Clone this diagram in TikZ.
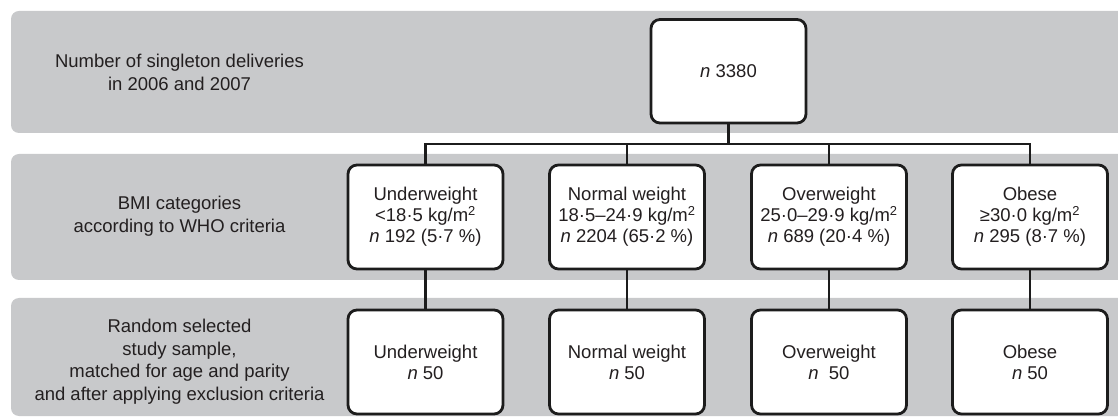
\documentclass[tikz,border=0pt]{standalone}
\usepackage{fontspec}
\setmainfont{Liberation Sans}
\usetikzlibrary{calc}

\definecolor{bandgray}{RGB}{200,201,203}
\definecolor{inkline}{RGB}{28,28,28}
\definecolor{inktext}{RGB}{35,31,32}

\tikzset{
  band/.style={fill=bandgray, rounded corners=8pt},
  label/.style={align=center, text=inktext, inner sep=0pt,
    font=\fontsize{18.5}{22.5}\selectfont},
  box/.style={draw=inkline, line width=2.8pt, fill=white, rounded corners=9pt,
    minimum width=155pt, minimum height=104pt, align=center, inner sep=0pt,
    text=inktext, font=\fontsize{18.5}{21}\selectfont},
  link/.style={draw=inkline, line width=2.8pt, line join=miter}
}

\begin{document}
\begin{tikzpicture}[x=1pt, y=-1pt]
  \clip (0,0) rectangle (1118,419);
  \fill[white] (0,0) rectangle (1118,419);

  % three grey bands, open to the right
  \path[band] (11,11)  rectangle (1140,133);
  \path[band] (11,154) rectangle (1140,280);
  \path[band] (11,298) rectangle (1140,416);

  % row captions
  \node[label] (cap1) at (179.5,72.5)
    {Number of singleton deliveries\\in 2006 and 2007};
  \node[label] (cap2) at (179.5,216)
    {BMI categories\\according to WHO criteria};
  \node[label] (cap3) at (179.5,361.5)
    {Random selected\\study sample,\\matched for age and parity\\and after applying exclusion criteria};

  % total
  \node[box, minimum height=103.5pt] (all) at (728.5,71.25) {\textit{n} 3380};

  % BMI categories
  \node[box] (u1) at (425.5,217) {Underweight\\<18·5 kg/m\textsuperscript{2}\\\textit{n} 192 (5·7 \%)};
  \node[box] (n1) at (627,217) {Normal weight\\18·5–24·9 kg/m\textsuperscript{2}\\\textit{n} 2204 (65·2 \%)};
  \node[box] (w1) at (829,217) {Overweight\\25·0–29·9 kg/m\textsuperscript{2}\\\textit{n} 689 (20·4 \%)};
  \node[box] (o1) at (1030,217) {Obese\\≥30·0 kg/m\textsuperscript{2}\\\textit{n} 295 (8·7 \%)};

  % study sample
  \node[box] (u2) at (425.5,362) {Underweight\\\textit{n} 50};
  \node[box] (n2) at (627,362) {Normal weight\\\textit{n} 50};
  \node[box] (w2) at (829,362) {Overweight\\\textit{n}\hspace{0.55em}50};
  \node[box] (o2) at (1030,362) {Obese\\\textit{n} 50};

  % branching connectors
  \coordinate (bus) at (728.5,144);
  \draw[link] (all.south) -- (bus);
  \draw[link] (u1.north) -- (u1.north |- bus) -- (o1.north |- bus) -- (o1.north);
  \draw[link] (n1.north) -- (n1.north |- bus);
  \draw[link] (w1.north) -- (w1.north |- bus);

  \draw[link] (u1.south) -- (u2.north);
  \draw[link] (n1.south) -- (n2.north);
  \draw[link] (w1.south) -- (w2.north);
  \draw[link] (o1.south) -- (o2.north);
\end{tikzpicture}
\end{document}
